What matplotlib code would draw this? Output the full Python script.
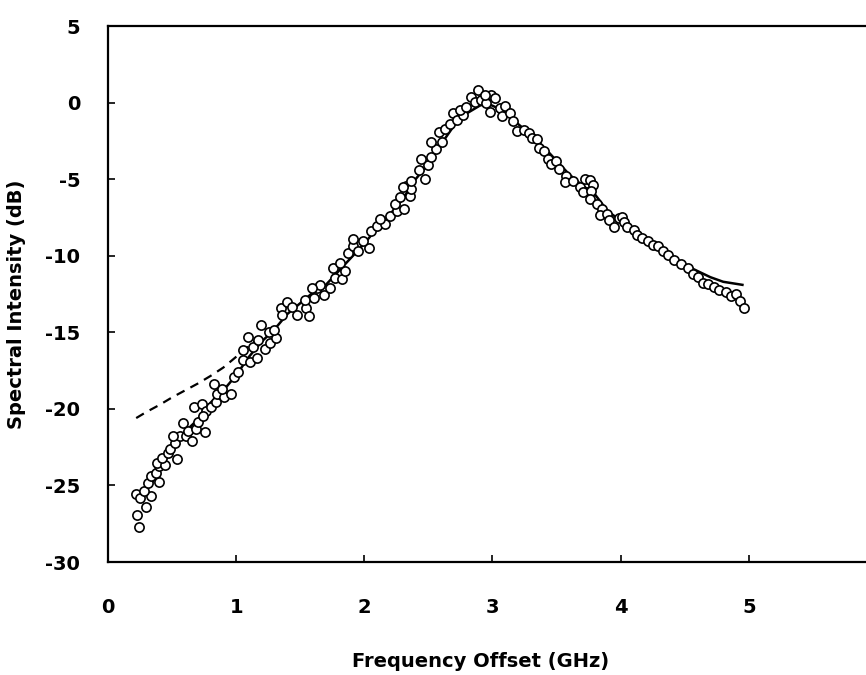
import matplotlib
matplotlib.use("Agg")
import matplotlib.pyplot as plt

plt.rcParams["axes.unicode_minus"] = False

# measured spectrum (open circles)
freq_meas = [0.242, 0.229, 0.218, 0.253, 0.293, 0.335, 0.283, 0.313, 0.332, 0.399,
             0.378, 0.396, 0.382, 0.447, 0.420, 0.472, 0.538, 0.484, 0.522, 0.560,
             0.508, 0.612, 0.652, 0.584, 0.625, 0.689, 0.701, 0.754, 0.672, 0.732,
             0.764, 0.803, 0.744, 0.841, 0.853, 0.905, 0.957, 0.891, 0.825, 0.980,
             1.018, 1.055, 1.108, 1.159, 1.054, 1.090, 1.131, 1.169, 1.223, 1.261,
             1.312, 1.193, 1.259, 1.298, 1.347, 1.397, 1.437, 1.477, 1.360, 1.542,
             1.569, 1.540, 1.605, 1.629, 1.682, 1.655, 1.590, 1.734, 1.771, 1.823,
             1.756, 1.848, 1.808, 1.871, 1.909, 1.949, 2.039, 1.908, 1.986, 2.049,
             2.101, 2.165, 2.125, 2.203, 2.254, 2.306, 2.240, 2.278, 2.356, 2.328,
             2.368, 2.303, 2.367, 2.470, 2.430, 2.495, 2.441, 2.519, 2.557, 2.517,
             2.608, 2.580, 2.632, 2.670, 2.694, 2.722, 2.772, 2.746, 2.797, 2.835,
             2.885, 2.861, 2.913, 2.953, 2.980, 2.991, 2.938, 3.017, 3.058, 3.096,
             3.072, 3.136, 3.163, 3.191, 3.243, 3.282, 3.309, 3.349, 3.362, 3.402,
             3.430, 3.456, 3.495, 3.522, 3.575, 3.563, 3.628, 3.681, 3.718, 3.758,
             3.747, 3.785, 3.708, 3.772, 3.760, 3.814, 3.853, 3.841, 3.893, 3.907,
             3.947, 3.985, 4.011, 4.025, 4.051, 4.104, 4.130, 4.170, 4.210, 4.249,
             4.288, 4.328, 4.368, 4.415, 4.471, 4.526, 4.566, 4.605, 4.645, 4.684,
             4.732, 4.771, 4.818, 4.857, 4.897, 4.929, 4.961]
level_meas = [-27.70, -26.96, -25.59, -25.81, -26.39, -25.69, -25.37, -24.82, -24.38, -24.77,
              -24.21, -23.73, -23.51, -23.66, -23.18, -22.85, -23.28, -22.64, -22.20, -21.76,
              -21.76, -21.80, -22.08, -20.89, -21.43, -21.32, -20.88, -21.48, -19.90, -19.68,
              -20.11, -19.89, -20.44, -19.56, -19.02, -19.23, -19.01, -18.69, -18.37, -17.92,
              -17.59, -16.83, -16.93, -16.71, -16.17, -15.30, -15.95, -15.51, -16.06, -15.73,
              -15.40, -14.53, -14.96, -14.85, -13.44, -13.00, -13.32, -13.86, -13.87, -13.42,
              -13.96, -12.87, -12.76, -12.11, -12.54, -11.89, -12.11, -12.10, -11.45, -11.55,
              -10.79, -11.02, -10.46, -9.81, -9.37, -9.69, -9.47, -8.93, -9.03, -8.38,
              -8.05, -7.93, -7.61, -7.39, -7.06, -6.94, -6.62, -6.19, -6.07, -5.42,
              -5.63, -5.53, -5.09, -4.97, -4.43, -4.10, -3.67, -3.56, -3.01, -2.58,
              -2.57, -1.92, -1.70, -1.37, -0.71, -1.15, -0.82, -0.49, -0.28, 0.38,
              0.82, 0.06, 0.17, -0.04, -0.59, 0.50, 0.50, 0.29, -0.36, -0.25,
              -0.90, -0.68, -1.22, -1.87, -1.76, -1.97, -2.29, -2.40, -2.94, -3.16,
              -3.70, -4.02, -3.80, -4.34, -4.77, -5.21, -5.10, -5.52, -4.98, -5.08,
              -5.84, -5.41, -5.85, -5.74, -6.28, -6.60, -6.92, -7.36, -7.25, -7.68,
              -8.11, -7.56, -7.45, -7.77, -8.10, -8.32, -8.64, -8.85, -9.06, -9.28,
              -9.38, -9.71, -9.92, -10.27, -10.52, -10.78, -11.17, -11.42, -11.75, -11.87,
              -12.07, -12.26, -12.38, -12.64, -12.51, -12.96, -13.42]

# fitted curve (solid)
freq_fit = [0.25, 0.33, 0.40, 0.45, 0.52, 0.60, 0.70, 0.80, 0.90, 1.00,
            1.10, 1.20, 1.30, 1.40, 1.50, 1.60, 1.70, 1.80, 1.90, 2.00,
            2.10, 2.20, 2.30, 2.40, 2.50, 2.60, 2.70, 2.80, 2.90, 2.95,
            3.00, 3.10, 3.20, 3.30, 3.40, 3.50, 3.60, 3.70, 3.80, 3.90,
            4.00, 4.10, 4.20, 4.30, 4.40, 4.50, 4.60, 4.70, 4.80, 4.95]
level_fit = [-25.8, -25.0, -24.0, -23.3, -22.4, -21.5, -20.7, -19.6, -18.8, -17.8,
             -16.6, -15.6, -14.8, -13.8, -13.1, -12.4, -11.9, -11.0, -10.1, -9.2,
             -8.2, -7.3, -6.3, -5.0, -4.0, -2.7, -1.5, -0.7, -0.2, -0.05,
             -0.2, -0.6, -1.4, -2.1, -2.9, -3.8, -4.7, -5.4, -6.0, -7.1,
             -7.7, -8.3, -8.9, -9.5, -10.1, -10.6, -11.0, -11.4, -11.7, -11.9]

# second model (dashed), low-frequency part only
freq_dash = [0.22, 0.30, 0.40, 0.50, 0.60, 0.70, 0.80, 0.90, 1.00, 1.10, 1.20, 1.30]
level_dash = [-20.6, -20.2, -19.75, -19.25, -18.8, -18.35, -17.85, -17.3, -16.6, -15.9, -15.2, -14.6]

xticks = [0, 1, 2, 3, 4, 5, 6]
yticks = [5, 0, -5, -10, -15, -20, -25, -30]

fig = plt.figure(figsize=(8.66, 6.75), dpi=100)
ax = fig.add_axes([0.1247, 0.1674, 0.888, 0.794])

ax.plot(freq_fit, level_fit, color="black", lw=1.8, zorder=2)
ax.plot(freq_dash, level_dash, color="black", lw=1.6, ls=(0, (4, 3)), zorder=2)
ax.scatter(freq_meas, level_meas, s=44, facecolors="white", edgecolors="black",
           linewidths=1.2, zorder=3)

ax.set_xlim(0, 6)
ax.set_ylim(-30, 5)
ax.set_xticks(xticks)
ax.set_yticks(yticks)

for side in ["top", "left", "bottom", "right"]:
    ax.spines[side].set_linewidth(1.6)

ax.tick_params(direction="in", length=5, width=1.2, labelsize=14)
ax.tick_params(axis="x", pad=26)
ax.tick_params(axis="y", pad=20)
for lbl in ax.get_xticklabels() + ax.get_yticklabels():
    lbl.set_fontweight("bold")

ax.set_xlabel("Frequency Offset (GHz)", fontsize=14, fontweight="bold")
ax.set_ylabel("Spectral Intensity (dB)", fontsize=14, fontweight="bold")
ax.xaxis.set_label_coords(0.484, -0.168)
ax.yaxis.set_label_coords(-0.106, 0.481)

fig.savefig("out.png", dpi=100)
